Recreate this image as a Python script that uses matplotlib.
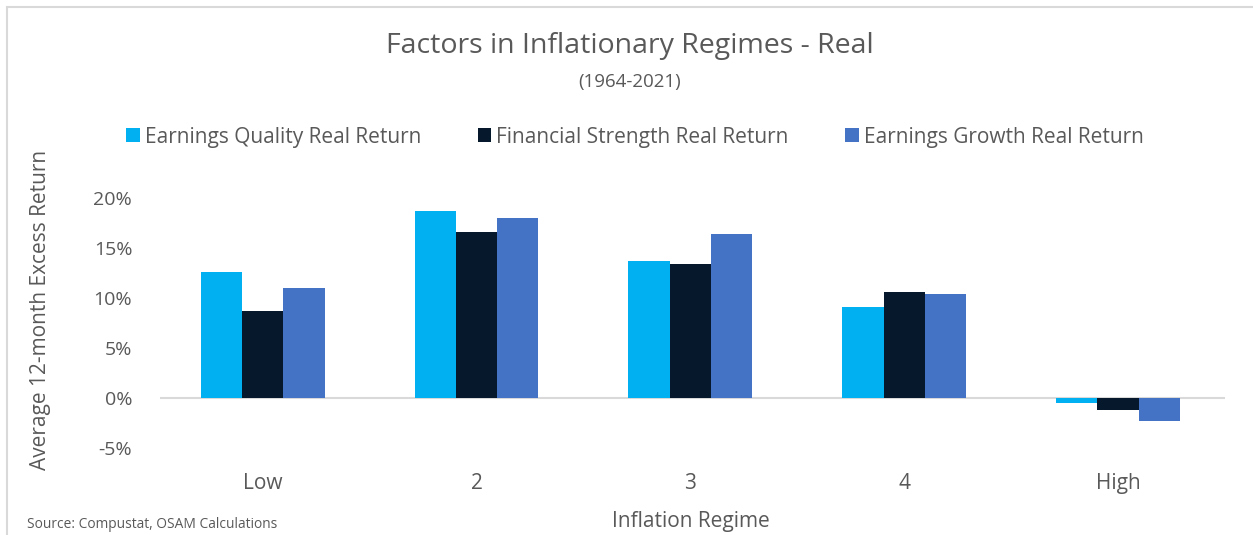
import matplotlib.pyplot as plt
from matplotlib.patches import Rectangle
from matplotlib.ticker import FuncFormatter
import numpy as np

plt.rcParams['font.family'] = ['Open Sans', 'DejaVu Sans']

regimes = ['Low', '2', '3', '4', 'High']
earnings_quality = [12.6, 18.7, 13.7, 9.1, -0.5]
financial_strength = [8.7, 16.6, 13.4, 10.6, -1.2]
earnings_growth = [11.0, 18.0, 16.4, 10.4, -2.3]

series = ['Earnings Quality Real Return', 'Financial Strength Real Return',
          'Earnings Growth Real Return']
colors = ['#00B0F0', '#05182C', '#4472C4']
text_color = '#595959'

W, H = 1253, 535
fig = plt.figure(figsize=(W / 100, H / 100), dpi=100)
ax = fig.add_axes([160 / W, (H - 448) / H, (1225 - 160) / W, 250 / H])

x = np.arange(len(regimes))
w = 0.193
for i, (vals, name, c) in enumerate(zip([earnings_quality, financial_strength, earnings_growth],
                                        series, colors)):
    ax.bar(x + (i - 1) * w, vals, width=w, color=c, label=name, zorder=2)

ax.axhline(0, color='#D9D9D9', lw=1.5, zorder=1)
ax.set_xlim(-0.48, 4.5)
ax.set_ylim(-5, 20)
ax.set_yticks([-5, 0, 5, 10, 15, 20])
ax.yaxis.set_major_formatter(FuncFormatter(lambda v, p: f'{v:.0f}%'))
ax.set_xticks(x)
ax.set_xticklabels(regimes)
ax.tick_params(axis='both', length=0, labelsize=14, labelcolor=text_color)
ax.tick_params(axis='x', labelsize=15, pad=18)
ax.tick_params(axis='y', pad=20)
for s in ax.spines.values():
    s.set_visible(False)

# axis titles placed in figure pixels
fig.text(691 / W, 1 - 522 / H, 'Inflation Regime', ha='center', va='center',
         fontsize=15, color=text_color)
fig.text(41 / W, 1 - 310 / H, 'Average 12-month Excess Return', ha='center', va='center',
         rotation=90, fontsize=15, color=text_color)

fig.text(630 / W, 1 - 46 / H, 'Factors in Inflationary Regimes - Real', ha='center', va='center',
         fontsize=20.5, color=text_color)
fig.text(630 / W, 1 - 82 / H, '(1964-2021)', ha='center', va='center', fontsize=13.5,
         color=text_color)
fig.text(27 / W, 1 - 524 / H, 'Source: Compustat, OSAM Calculations', ha='left', va='center',
         fontsize=9.9, color=text_color)

fig.legend(loc='center', bbox_to_anchor=(635 / W, 1 - 137 / H), ncol=3, frameon=False,
           fontsize=15, labelcolor=text_color, handlelength=0.65, handleheight=0.65,
           handletextpad=0.25, columnspacing=2.7)

fig.patches.append(Rectangle((7 / W, -0.01), 1.0, 1 - 7 / H + 0.01, transform=fig.transFigure,
                             fill=False, edgecolor='#D9D9D9', lw=1.5))

fig.savefig('out.png', dpi=100)
